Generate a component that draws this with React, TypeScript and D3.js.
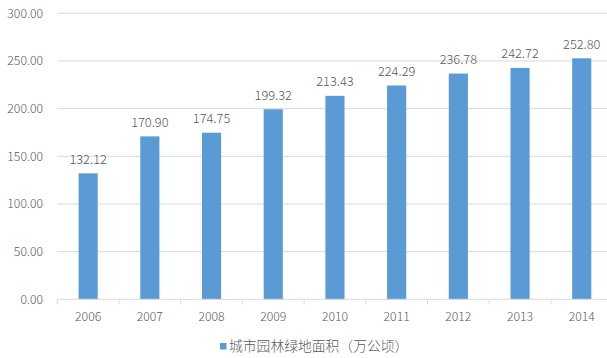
import React from "react";
import * as d3 from "d3";

const categories = ["2006", "2007", "2008", "2009", "2010", "2011", "2012", "2013", "2014"];
const values = [132.12, 170.9, 174.75, 199.32, 213.43, 224.29, 236.78, 242.72, 252.8];
const yTicks = [0, 50, 100, 150, 200, 250, 300];
const seriesName = "城市园林绿地面积（万公顷）";

const W = 607;
const H = 358;
const FONT = "'Noto Sans CJK SC', 'Noto Sans', sans-serif";
const TEXT = "#595959";

export default function App() {
  const left = 57.3;
  const step = 61.7;
  const x = d3
    .scaleBand<string>()
    .domain(categories)
    .range([left, left + step * categories.length])
    .paddingInner(0.69)
    .paddingOuter(0.345);
  const y = d3.scaleLinear().domain([0, 300]).range([299.3, 13.3]);
  const bounds = categories.map((_, i) => left + step * i);
  bounds.push(left + step * categories.length);

  return (
    <svg width={W} height={H} style={{ position: "absolute", left: 0, top: 0, background: "#fff" }}>
      <rect width={W} height={H} fill="#fff" />
      {yTicks.map((t) => (
        <g key={t}>
          {t !== 0 && (
            <line x1={left} x2={W} y1={y(t)} y2={y(t)} stroke="#D9D9D9" strokeWidth={1} />
          )}
          <text x={43} y={y(t)} dy="0.35em" textAnchor="end" fontFamily={FONT} fontSize={12.2} fontWeight={300} fill={TEXT}>
            {t.toFixed(2)}
          </text>
        </g>
      ))}
      {values.map((v, i) => (
        <rect
          key={categories[i]}
          x={x(categories[i])}
          width={x.bandwidth()}
          y={y(v)}
          height={y(0) - y(v)}
          fill="#5B9BD5"
        />
      ))}
      <line x1={left} x2={W} y1={y(0)} y2={y(0)} stroke="#D9D9D9" strokeWidth={1} />
      {bounds.map((b, i) => (
        <line key={i} x1={b} x2={b} y1={y(0)} y2={y(0) + 5} stroke="#D9D9D9" strokeWidth={1} />
      ))}
      {values.map((v, i) => (
        <text
          key={"l" + i}
          x={(x(categories[i]) as number) + x.bandwidth() / 2}
          y={y(v) - 9.5}
          textAnchor="middle"
          fontFamily={FONT}
          fontSize={12.8}
          fontWeight={300}
          fill={TEXT}
        >
          {v.toFixed(2)}
        </text>
      ))}
      {categories.map((c) => (
        <text
          key={"c" + c}
          x={(x(c) as number) + x.bandwidth() / 2}
          y={317}
          dy="0.35em"
          textAnchor="middle"
          fontFamily={FONT}
          fontSize={12.2}
          fontWeight={300}
          fill={TEXT}
        >
          {c}
        </text>
      ))}
      <rect x={220} y={343} width={6.5} height={6.5} fill="#5B9BD5" />
      <text x={229} y={346.5} dy="0.35em" fontFamily={FONT} fontSize={13.8} fontWeight={300} fill={TEXT}>
        {seriesName}
      </text>
    </svg>
  );
}
